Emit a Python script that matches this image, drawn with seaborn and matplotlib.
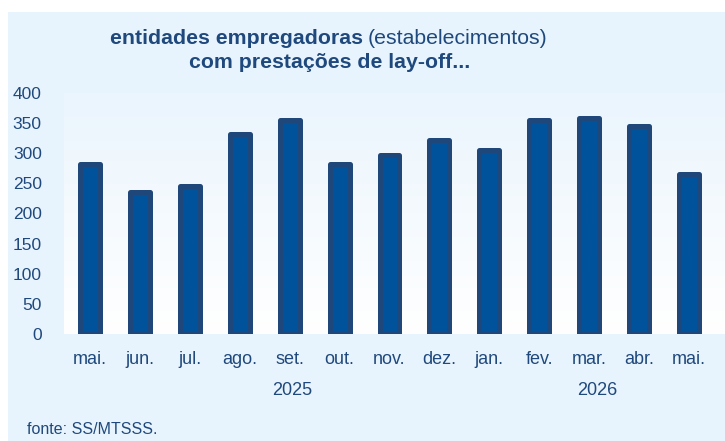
import matplotlib
matplotlib.use("Agg")
import matplotlib.pyplot as plt
import numpy as np
import pandas as pd
import seaborn as sns
from matplotlib.patches import Rectangle

# dados
meses = ["mai.", "jun.", "jul.", "ago.", "set.", "out.", "nov.",
         "dez.", "jan.", "fev.", "mar.", "abr.", "mai."]
entidades = [281, 236, 245, 331, 355, 281, 297, 322, 305, 354, 358, 344, 266]
anos = ["2025", "2026"]
anos_pos = [4.06, 10.16]
y_ticks = [0, 50, 100, 150, 200, 250, 300, 350, 400]

AZUL = "#00529B"
CONTORNO = "#1F477A"
TEXTO = "#1F497D"
FUNDO = "#E8F4FD"

sns.set_theme(style="white")
plt.rcParams["font.family"] = ["Liberation Sans", "DejaVu Sans"]

df = pd.DataFrame({"pos": np.arange(len(meses)), "valor": entidades})

fig = plt.figure(figsize=(7.25, 4.41), dpi=100)
fig.patch.set_facecolor("white")
fig.patches.append(Rectangle((8 / 725, 0), 1, 1 - 12 / 441,
                             transform=fig.transFigure, facecolor=FUNDO,
                             edgecolor="none", zorder=-10))

ax = fig.add_axes([64 / 725, 1 - 334 / 441, 1 - 64 / 725, (334 - 92.7) / 441])
ax.set_facecolor("none")

# gradiente do fundo da área de plotagem
grad = np.linspace(0, 1, 256).reshape(-1, 1)
cmap = matplotlib.colors.LinearSegmentedColormap.from_list(
    "fundo", ["#FFFFFF", "#EAF5FD"])
ax.imshow(grad, aspect="auto", cmap=cmap, origin="lower",
          extent=[0, 1, 0, 1], transform=ax.transAxes, zorder=0)

sns.barplot(data=df, x="pos", y="valor", color=AZUL, width=0.4,
            edgecolor=CONTORNO, linewidth=3.6, saturation=1, ax=ax,
            native_scale=True, zorder=3)
for p in ax.patches:
    p.set_joinstyle("round")

ax.set_xlim(-0.52, 12.72)
ax.set_ylim(0, 400)
ax.set_yticks(y_ticks)
ax.set_xticks(np.arange(len(meses)))
ax.set_xticklabels(meses)
ax.tick_params(axis="both", colors=TEXTO, length=0)
ax.tick_params(axis="x", pad=12, labelsize=13)
ax.tick_params(axis="y", pad=16, labelsize=12.5)
ax.set_xlabel("")
ax.set_ylabel("")
for s in ax.spines.values():
    s.set_visible(False)

# anos por baixo dos meses
for ano, xp in zip(anos, anos_pos):
    ax.text(xp, -0.236, ano, transform=ax.get_xaxis_transform(),
            ha="center", va="center", fontsize=13, color=TEXTO)

# título
fig.text(363 / 725, 1 - 39 / 441, "entidades empregadoras",
         ha="right", va="center", fontsize=15.3, fontweight="bold", color=TEXTO)
fig.text(368 / 725, 1 - 39 / 441, "(estabelecimentos)",
         ha="left", va="center", fontsize=15.3, color=TEXTO)
fig.text(330 / 725, 1 - 62 / 441, "com prestações de lay-off...",
         ha="center", va="center", fontsize=15.3, fontweight="bold", color=TEXTO)

fig.text(27 / 725, 1 - 429 / 441, "fonte: SS/MTSSS.", ha="left",
         va="center", fontsize=11.5, color=TEXTO)

fig.savefig("out.png", dpi=100)
